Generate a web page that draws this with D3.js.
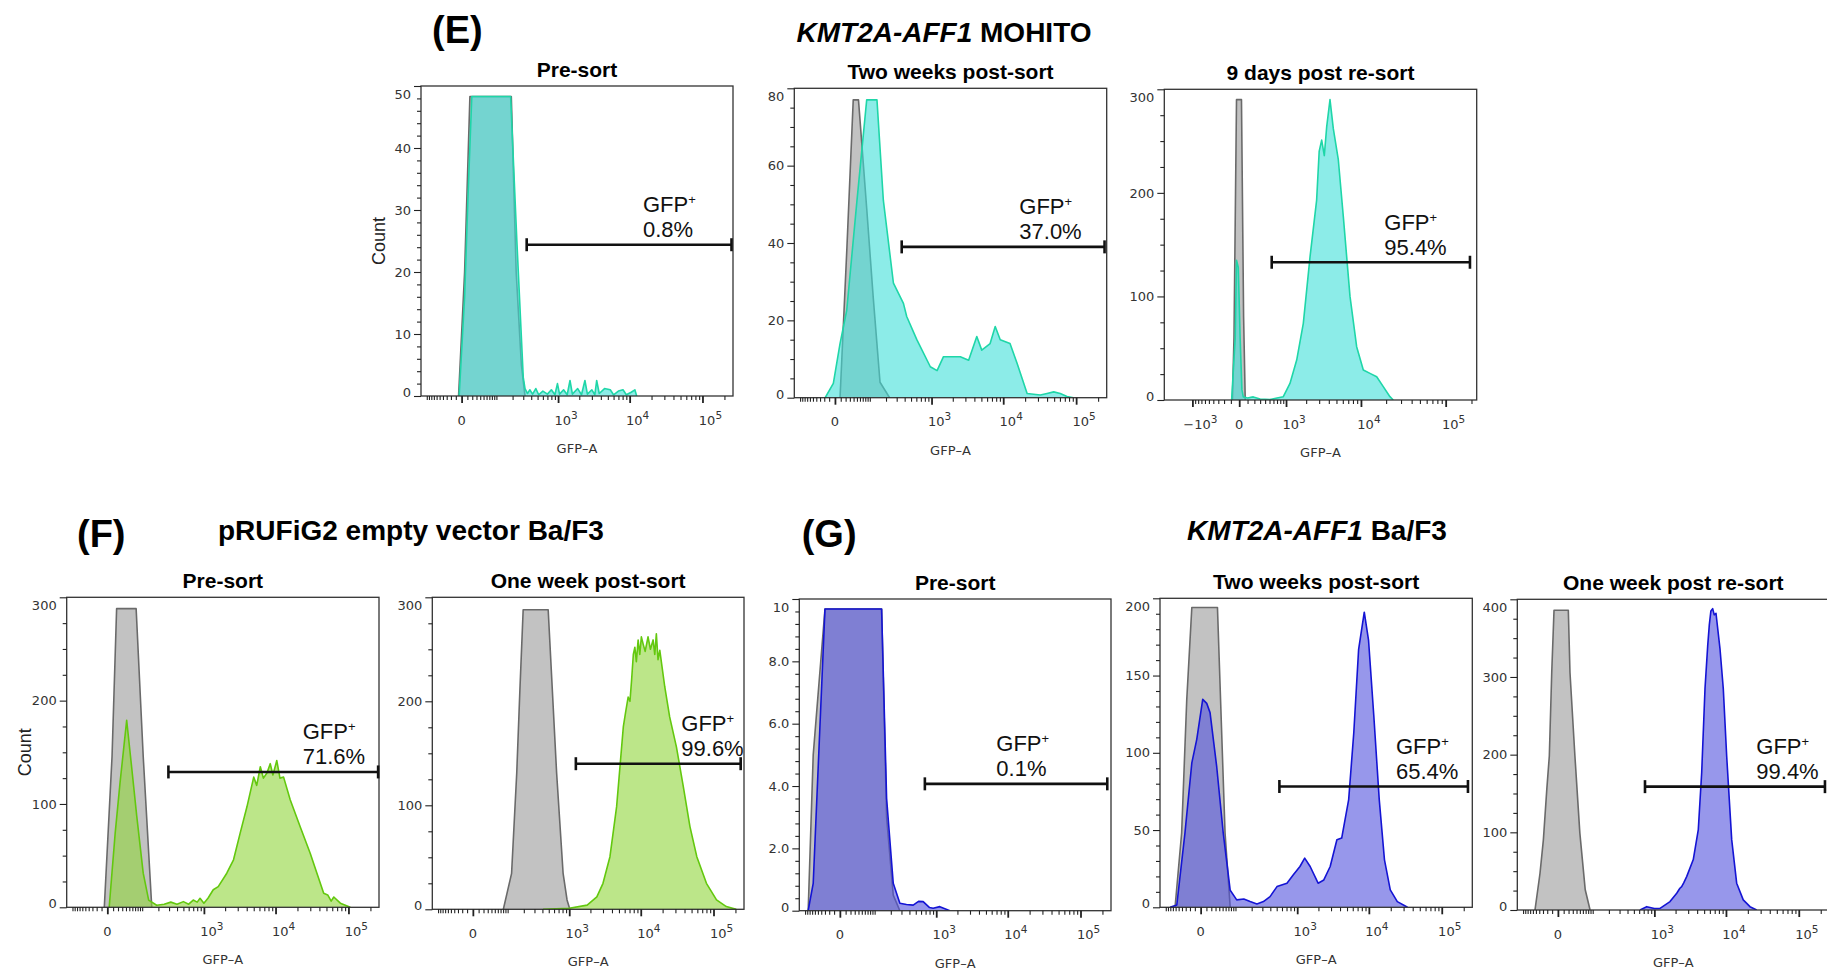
<!DOCTYPE html>
<html>
<head>
<meta charset="utf-8">
<script src="https://cdn.jsdelivr.net/npm/d3@7"></script>
<style>
  body { margin: 0; background: #fff; }
  svg { display: block; }
  text { font-family: "Liberation Sans", Arial, sans-serif; }
  .tk { font-family: "DejaVu Sans", sans-serif; font-size: 13px; fill: #333; }
</style>
</head>
<body>
<svg id="fig" width="1827" height="972"></svg>
<script>
// ---- data: [GFP-A value, count] ----
const e1Control = [[-5,0],[5,20],[15,48.3],[190,48.3],[230,20],[280,5],[320,0]];
const e1Sample = [[-4,0],[5,16],[12,34],[19,48.3],[185,48.3],[236,25],[300,3],[320,1.2],[350,0.4],[380,1],[420,0.3],[470,1.2],[520,0.2],[600,0.8],[700,0.3],[800,1],[900,0.2],[980,2],[1050,0.3],[1200,1],[1350,0.2],[1480,2.5],[1600,0.3],[1900,1.2],[2150,0.2],[2400,2.5],[2600,0.3],[3000,1],[3300,0.2],[3500,2.5],[3800,0.4],[4500,1.2],[5400,1],[6000,0.2],[7000,0.8],[8100,1],[9000,0.2],[10500,0.6],[11800,1],[12500,0]];

const e2Control = [[8.7,0],[23,39],[39,77],[55,77],[86,49],[117,26],[157,4],[230,0]];
const e2Sample = [[-18,0],[-2.6,3.7],[8.7,14],[22.5,22.6],[50,50.9],[86,77],[138,77],[180,51],[266,29.6],[383,24.4],[430,21],[610,15],[960,8],[1200,7],[1480,10.6],[2550,10.6],[3330,9.7],[4320,15.8],[5060,12.3],[6600,14],[7760,18.4],[9100,15],[12400,14],[15500,8.9],[21300,1.1],[32300,0.7],[40000,1.1],[49300,1.5],[60600,1.1],[75000,0.3],[92000,0]];

const e3Control = [[-80,0],[-60,60],[-30,290],[25,290],[50,80],[70,0]];
const e3Sample = [[-90,0],[-45,60],[-30,135],[-10,128],[10,60],[30,10],[46,3],[100,2],[183,3],[300,1],[512,0.5],[700,2],[902,3.2],[1156,16],[1463,38.6],[1824,74],[2260,138],[2777,193],[3000,240],[3236,251],[3500,236],[3760,264],[4143,290],[4565,262],[5275,232],[6090,177],[7360,100],[8870,51.5],[10680,29],[12840,25.7],[15450,22.5],[18500,12.9],[22200,3.2],[24300,0]];

const f1Control = [[-5,0],[8,146],[17,289],[74,289],[105,146],[153,0]];
const f1Sample = [[3,0],[14,71.6],[24.5,120],[42,181],[57.5,136],[76.5,88],[105,33],[134,7],[187,2],[250,3],[320,5],[400,3],[500,5.5],[600,3],[700,7],[800,5],[880,8.7],[1000,4],[1150,9],[1360,17],[1600,20],[2110,33],[2620,46],[3250,72],[4020,97],[5000,126],[5500,118],[6170,136],[6800,125],[7610,130],[8450,139],[9200,128],[10400,142],[11500,125],[12900,126],[15900,104],[21800,78],[30000,52],[37000,33],[45800,13.5],[52000,12],[58000,6],[63000,10],[77500,4],[106000,0]];

const f2Control = [[81,0],[120,34.6],[150,131],[171,211],[195,288],[490,288],[655,131],[815,34.6],[930,9],[1020,0]];
const f2Sample = [[410,0],[1000,1],[1800,4],[2460,12],[3000,25],[3750,50.6],[4640,98.7],[5750,175.6],[6200,190],[6700,204],[7100,200],[7470,220],[7900,245],[8300,252],[8700,238],[9200,259],[9700,245],[10200,262],[10800,255],[11500,248],[12600,262],[13600,250],[14800,259],[15600,245],[16400,265],[17300,240],[18300,249],[21400,214],[25000,185],[31000,156],[38500,118],[47500,79.5],[59000,50.6],[80000,25],[110000,9],[150000,2.6],[205000,0]];

const g1Control = [[-86,0],[-66,5],[-30,9.68],[137,9.68],[169,3],[220,0.5],[283,0]];
const g1Sample = [[-86,0],[-66,0.88],[-30,9.68],[137,9.68],[169,3.6],[220,0.88],[283,0.24],[360,0.2],[457,0.18],[550,0.3],[645,0.29],[800,0.1],[902,0.08],[1127,0.13],[1565,0]];

const g2Control = [[-62,0],[-41,48],[-27.5,134],[-16,194],[35,194],[58,48],[77,0]];
const g2Sample = [[-81,0],[-56,1.5],[-32,48],[-16,93.5],[-6.5,108.7],[3.4,134.6],[10.6,132],[17.3,126],[33,91],[52,48],[77,11],[106,4.8],[145,5.4],[188,3.7],[245,2.2],[312,3.7],[396,6.9],[505,13.4],[710,15.6],[880,21],[1095,26.4],[1280,31.8],[1530,26.4],[1980,15.6],[2380,17.7],[2920,26.4],[3620,43.7],[4220,44.8],[5270,69.7],[6200,113],[7230,167],[8650,191],[9900,173],[11700,124],[13900,69.7],[16400,30.7],[19700,11.3],[24600,3.7],[34000,0]];

const g3Control = [[-53,0],[-38,47],[-29,90.6],[-21,155],[-15.5,198.5],[-10.7,306],[-6.5,386],[19.5,386],[23.2,306],[35.6,198],[50,99],[68.5,26],[88,0]];
const g3Sample = [[617,0],[775,4.3],[1000,2],[1205,2.2],[1670,10.8],[2075,21.6],[2300,28],[2435,30],[2600,35],[2860,43],[3535,65],[4150,103.6],[4625,177],[5140,285],[5600,340],[5895,367],[6200,385],[6560,388],[6900,380],[7290,382],[8275,336.6],[9190,285],[10230,198.5],[12000,90.6],[14050,34.5],[17300,13],[21400,4.3],[26450,0]];

const panelTitles = ["Pre-sort", "Two weeks post-sort", "9 days post re-sort", "Pre-sort", "One week post-sort", "Pre-sort", "Two weeks post-sort", "One week post re-sort"];
const gfpPct = ["0.8%", "37.0%", "95.4%", "71.6%", "99.6%", "0.1%", "65.4%", "99.4%"];
const gateLow = [340, 360, 555, 293, 1244, 683, 549, 731];
const gateHigh = [250000, 245000, 192000, 255000, 236000, 233000, 228600, 228600];
const gateCount = [24.4, 39, 133, 131, 140, 4.07, 78.2, 158.8];
const yMaxes = [50, 80, 300, 300, 300, 10, 200, 400];
const yMajorStep = [10, 20, 100, 100, 100, 2, 50, 100];
const yMinorStep = [2, 5, 25, 25, 25, 0.4, 10, 25];
const controls = [e1Control, e2Control, e3Control, f1Control, f2Control, g1Control, g2Control, g3Control];
const samples = [e1Sample, e2Sample, e3Sample, f1Sample, f2Sample, g1Sample, g2Sample, g3Sample];

const stdMajor = [0, 1e3, 1e4, 1e5];
const wideMajor = [-1e3, 0, 1e3, 1e4, 1e5];

// ---- styling / layout ----
const colours = {
  teal: { fill: "#40e0d8", stroke: "#1fd6a8" },
  green: { fill: "#8fd63a", stroke: "#63c80e" },
  blue: { fill: "#5252de", stroke: "#1414d4" },
  grey: { fill: "#9a9a9a", stroke: "#6a6a6a" }
};
const scaleStd = { constant: 50, domain: [-130, 262144] };
const scaleWide = { constant: 400, domain: [-2570, 230000] };

const layout = [
  { x: 421, y: 86, w: 312, h: 310, colour: "teal", wide: false, labelDx: 222, count: true },
  { x: 794.3, y: 88.3, w: 312.4, h: 309.4, colour: "teal", wide: false, labelDx: 225 },
  { x: 1164.3, y: 89.3, w: 312.4, h: 310.7, colour: "teal", wide: true, labelDx: 220 },
  { x: 66.7, y: 597.3, w: 312.3, h: 310, colour: "green", wide: false, labelDx: 236, count: true },
  { x: 432.3, y: 597.3, w: 311.7, h: 312, colour: "green", wide: false, labelDx: 249 },
  { x: 799.3, y: 599, w: 311.7, h: 311.7, colour: "blue", wide: false, labelDx: 197 },
  { x: 1160, y: 598.3, w: 312.3, h: 309, colour: "blue", wide: false, labelDx: 236 },
  { x: 1517.3, y: 599.3, w: 312, h: 310.7, colour: "blue", wide: false, labelDx: 239 }
];

const svg = d3.select("#fig");

function minorTicks(wide) {
  const t = [];
  if (!wide) {
    d3.range(10, 100, 10).forEach(v => { t.push(v); t.push(-v); });
    t.push(-100);
  } else {
    d3.range(100, 1000, 100).forEach(v => t.push(-v));
  }
  d3.range(100, 1000, 100).forEach(v => t.push(v));
  [1e3, 1e4].forEach(dec => d3.range(2, 10).forEach(m => t.push(m * dec)));
  t.push(2e5);
  return t;
}

function drawPanel(i) {
  const L = layout[i];
  const sc = L.wide ? scaleWide : scaleStd;
  const bottom = L.y + L.h;
  const x = d3.scaleSymlog().constant(sc.constant).domain(sc.domain).range([L.x, L.x + L.w]);
  const y = d3.scaleLinear().domain([0, yMaxes[i]]).range([bottom, L.y]);
  const col = colours[L.colour];
  const g = svg.append("g");

  g.append("clipPath").attr("id", "clip" + i)
    .append("rect").attr("x", L.x).attr("y", L.y).attr("width", L.w).attr("height", L.h);

  const area = d3.area().x(d => x(d[0])).y0(y(0)).y1(d => y(d[1]));
  const line = d3.line().x(d => x(d[0])).y(d => y(d[1]));
  const plot = g.append("g").attr("clip-path", `url(#clip${i})`);

  [[controls[i], colours.grey], [samples[i], col]].forEach(([data, c]) => {
    plot.append("path").attr("d", area(data))
      .attr("fill", c.fill).attr("fill-opacity", 0.6);
    plot.append("path").attr("d", line(data))
      .attr("fill", "none").attr("stroke", c.stroke).attr("stroke-width", 1.6)
      .attr("stroke-linejoin", "round");
  });

  // frame
  g.append("rect").attr("x", L.x).attr("y", L.y).attr("width", L.w).attr("height", L.h)
    .attr("fill", "none").attr("stroke", "#333").attr("stroke-width", 1.3);

  // y axis
  const step = yMinorStep[i], maj = yMajorStep[i];
  const yTicks = d3.range(0, Math.round(yMaxes[i] / step) + 1).map(k => Math.round(k * step * 1000) / 1000);
  const isMajor = d => Math.abs(d / maj - Math.round(d / maj)) < 1e-6;
  const fmt = d => (maj < 5 && d !== 0 && d !== yMaxes[i]) ? d3.format(".1f")(d) : d3.format("d")(d);
  const ya = g.append("g").attr("transform", `translate(${L.x},0)`)
    .call(d3.axisLeft(y).tickValues(yTicks).tickSizeOuter(0).tickFormat(d => isMajor(d) ? fmt(d) : ""));
  ya.select(".domain").remove();
  ya.selectAll(".tick line").attr("x2", d => isMajor(d) ? -7 : -4).attr("stroke", "#222").attr("stroke-width", 1.1);
  ya.selectAll(".tick text").attr("class", "tk").attr("x", -10).attr("font-size", null).attr("font-family", null)
    .attr("dy", d => d === yMaxes[i] ? "0.95em" : d === 0 ? "0.05em" : "0.32em");

  // x axis
  const majors = L.wide ? wideMajor : stdMajor;
  const xa = g.append("g").attr("transform", `translate(0,${bottom})`)
    .call(d3.axisBottom(x).tickValues(majors.concat(minorTicks(L.wide))).tickSizeOuter(0).tickFormat(""));
  xa.select(".domain").remove();
  xa.selectAll(".tick line").attr("y2", d => majors.includes(d) ? 7 : 4)
    .attr("stroke", "#222").attr("stroke-width", d => majors.includes(d) ? 1.8 : 1.1);
  majors.forEach(v => {
    const t = g.append("text").attr("class", "tk").attr("text-anchor", "middle")
      .attr("x", x(v) + (v === 0 ? 0 : 8)).attr("y", bottom + 28.5);
    if (v === 0) { t.text("0"); return; }
    t.append("tspan").text(v < 0 ? "\u221210" : "10");
    t.append("tspan").attr("font-size", 10.5).attr("dy", -6).text(Math.round(Math.log10(Math.abs(v))));
  });
  g.append("text").attr("class", "tk").attr("font-size", 14.5).attr("text-anchor", "middle")
    .attr("x", L.x + L.w / 2).attr("y", bottom + 57).text("GFP\u2013A");

  if (L.count) {
    g.append("text").attr("font-size", 18).attr("fill", "#222").attr("text-anchor", "middle")
      .attr("transform", `translate(${L.x - 36},${L.y + L.h / 2}) rotate(-90)`).text("Count");
  }

  // title
  g.append("text").attr("font-size", 21).attr("font-weight", "bold").attr("text-anchor", "middle")
    .attr("x", L.x + L.w / 2).attr("y", L.y - 9.5).text(panelTitles[i]);

  // GFP+ gate
  const gx0 = x(gateLow[i]), gx1 = x(gateHigh[i]), gy = y(gateCount[i]);
  const gate = g.append("g").attr("stroke", "#111").attr("stroke-width", 2.6);
  gate.append("line").attr("x1", gx0).attr("x2", gx1).attr("y1", gy).attr("y2", gy);
  [gx0, gx1].forEach(gx => gate.append("line").attr("x1", gx).attr("x2", gx).attr("y1", gy - 6.5).attr("y2", gy + 6.5));
  const lab = g.append("text").attr("font-size", 22).attr("fill", "#111")
    .attr("x", L.x + L.labelDx).attr("y", gy - 32.5);
  lab.append("tspan").text("GFP");
  lab.append("tspan").attr("font-size", 13).attr("dy", -8).text("+");
  g.append("text").attr("font-size", 22).attr("fill", "#111")
    .attr("x", L.x + L.labelDx).attr("y", gy - 7.5).text(gfpPct[i]);
}

d3.range(layout.length).forEach(drawPanel);

// ---- panel letters and group headings ----
const letters = [["(E)", 432, 43], ["(F)", 77, 546.5], ["(G)", 801.7, 546.5]];
letters.forEach(([t, lx, ly]) => svg.append("text").attr("x", lx).attr("y", ly)
  .attr("font-size", 38).attr("font-weight", "bold").text(t));

function heading(parts, hx, hy, anchor) {
  const t = svg.append("text").attr("x", hx).attr("y", hy).attr("font-size", 28)
    .attr("font-weight", "bold").attr("text-anchor", anchor);
  parts.forEach(([s, it]) => t.append("tspan").attr("font-style", it ? "italic" : "normal").text(s));
}
heading([["KMT2A-AFF1", true], [" MOHITO", false]], 944, 41.5, "middle");
heading([["pRUFiG2 empty vector Ba/F3", false]], 218, 540, "start");
heading([["KMT2A-AFF1", true], [" Ba/F3", false]], 1317, 540, "middle");
</script>
</body>
</html>
